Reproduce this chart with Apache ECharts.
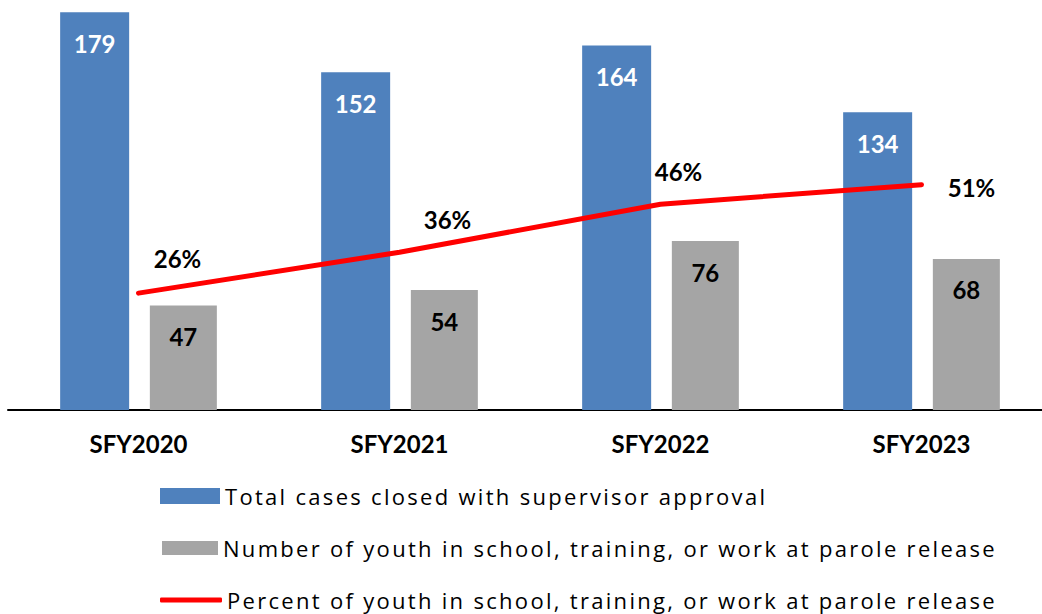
<!DOCTYPE html>
<html>
<head>
<meta charset="utf-8">
<script src="https://cdn.jsdelivr.net/npm/echarts@6/dist/echarts.min.js"></script>
<style>
  html, body { margin: 0; padding: 0; background: #fff; }
  #main { width: 1042px; height: 614px; }
  /* legend text in the original is spaced out */
  #main text[style*="Open Sans"], #main text[font-family*="Open Sans"] { letter-spacing: 2.3px; }
</style>
</head>
<body>
<div id="main"></div>
<script type="text/javascript">
	// data
	var years = ['SFY2020', 'SFY2021', 'SFY2022', 'SFY2023'];
	var totalClosed = [179, 152, 164, 134];
	var inSchool = [47, 54, 76, 68];
	var pctInSchool = [26.3, 35.5, 46.3, 50.7];

	var nameTotal = 'Total cases closed with supervisor approval';
	var nameSchool = 'Number of youth in school, training, or work at parole release';
	var namePct = 'Percent of youth in school, training, or work at parole release';

	// where each % label sits relative to its point
	var pctLabelOffsets = [[39, -35], [48, -33], [18, -33], [50, 3]];

	var myChart = echarts.init(document.getElementById('main'), null, { renderer: 'svg' });

	var legendText = { fontFamily: 'Open Sans', fontSize: 22, color: '#000', lineHeight: 24 };

	myChart.setOption({
		animation: false,
		grid: { left: 8, top: 10, width: 1044, height: 400, outerBoundsMode: 'none' },
		legend: [
			{ left: 160, top: 484, padding: 0, icon: 'rect', itemWidth: 60, itemHeight: 16, itemGap: 6,
			  data: [nameTotal], textStyle: legendText },
			{ left: 162, top: 536, padding: 0, icon: 'rect', itemWidth: 56, itemHeight: 14, itemGap: 8,
			  data: [nameSchool], textStyle: legendText },
			{ left: 160, top: 588, padding: 0, icon: 'roundRect', itemWidth: 62, itemHeight: 5, itemGap: 4,
			  data: [namePct], textStyle: legendText }
		],
		xAxis: {
			type: 'category',
			data: years,
			axisLine: { lineStyle: { color: '#000', width: 2 } },
			axisTick: { show: false },
			axisLabel: { margin: 21, fontFamily: 'Lato', fontWeight: 'bold', fontSize: 24, color: '#000' }
		},
		yAxis: [
			{ type: 'value', min: 0, max: 180, show: false, splitLine: { show: false } },
			{ type: 'value', min: 0, max: 90, show: false, splitLine: { show: false } }
		],
		series: [
			{
				name: nameTotal,
				type: 'bar',
				data: totalClosed,
				barWidth: 69,
				barGap: '30%',
				itemStyle: { color: '#4F81BD' },
				label: { show: true, position: 'insideTop', distance: 19,
					fontFamily: 'Lato', fontWeight: 'bold', fontSize: 24, color: '#fff' }
			},
			{
				name: nameSchool,
				type: 'bar',
				data: inSchool,
				barWidth: 67,
				itemStyle: { color: '#A5A5A5' },
				label: { show: true, position: 'insideTop', distance: 19,
					fontFamily: 'Lato', fontWeight: 'bold', fontSize: 24, color: '#000' }
			},
			{
				name: namePct,
				type: 'line',
				yAxisIndex: 1,
				data: pctInSchool.map(function (v, i) {
					return { value: v, label: { offset: pctLabelOffsets[i] } };
				}),
				symbol: 'circle',
				symbolSize: 1,
				itemStyle: { color: '#FF0000' },
				lineStyle: { color: '#FF0000', width: 5, cap: 'round' },
				z: 5,
				label: {
					show: true, position: 'inside',
					fontFamily: 'Lato', fontWeight: 'bold', fontSize: 24, color: '#000',
					formatter: function (p) { return Math.round(p.value) + '%'; }
				}
			}
		]
	});
</script>
</body>
</html>
